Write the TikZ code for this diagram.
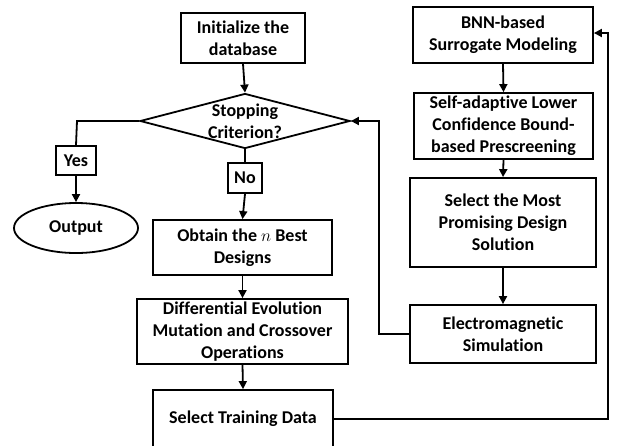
\documentclass[tikz,border=0pt]{standalone}
\usepackage{fontspec}
\setmainfont{Carlito}[Ligatures=NoCommon]
\usetikzlibrary{arrows.meta,shapes.geometric}
\begin{document}
\begin{tikzpicture}[x=1pt,y=-1pt,
  txt/.style={font=\bfseries\fontsize{18}{22}\selectfont, align=center},
  every node/.style={txt, inner sep=0pt},
  box/.style={draw, line width=1.8pt, rectangle},
  conn/.style={line width=1.8pt},
  arr/.style={conn, -{Triangle[length=8pt,width=8pt]}}]
\useasboundingbox (0,0) rectangle (617,445);
\clip (0,0) rectangle (617,445);
\fill[white] (0,0) rectangle (617,445);
% left column
\node[box, minimum width=124pt, minimum height=50pt] (init) at (243,38) {Initialize the\\database};
\node[draw, line width=1.8pt, diamond, minimum width=210pt, minimum height=55pt,
      label={[txt]center:Stopping\\Criterion?}] (dia) at (245,121) {};
\node[box, minimum width=40pt, minimum height=29pt] (yes) at (76,160.5) {Yes};
\node[draw, line width=1.8pt, ellipse, minimum width=124pt, minimum height=50pt] (out) at (76,228) {Output};
\node[box, minimum width=34pt, minimum height=30pt] (no) at (245,178) {No};
\node[box, minimum width=179pt, minimum height=55pt] (obt) at (242.5,247.5) {Obtain the $n$ Best\\Designs};
\node[box, minimum width=211pt, minimum height=65pt] (de) at (242.5,331.5) {Differential Evolution\\Mutation and Crossover\\Operations};
\node[box, minimum width=180pt, minimum height=58pt] (std) at (243,419) {Select Training Data};
% right column
\node[box, minimum width=180pt, minimum height=56pt] (bnn) at (503,35) {BNN-based\\Surrogate Modeling};
\node[box, minimum width=179pt, minimum height=66pt] (sa) at (503.5,126) {Self-adaptive Lower\\Confidence Bound-\\based Prescreening};
\node[box, minimum width=186pt, minimum height=89pt] (sm) at (503,222.5) {Select the Most\\Promising Design\\Solution};
\node[box, minimum width=186pt, minimum height=58pt] (em) at (503,334) {Electromagnetic\\Simulation};
% helper coordinates
\coordinate (cy) at (77,121);
\coordinate (ce) at (379,121);
\coordinate (cb) at (608,33);
% connectors
\draw[arr] (init.south) -- (dia.north);
\draw[conn] (dia.west) -- (cy) -- (yes.north);
\draw[arr] (yes.south) -- (out.north);
\draw[conn] (dia.south) -- (no.north);
\draw[arr] (no.south) -- (obt.north);
\draw[arr] (obt.south) -- (de.north);
\draw[arr] (de.south) -- (std.north);
\draw[arr] (bnn.south) -- (sa.north);
\draw[arr] (sa.south) -- (sm.north);
\draw[arr] (sm.south) -- (em.north);
\draw[arr] (em.west) -| (ce) -- (dia.east);
\draw[arr] (std.east) -| (cb) -- (bnn.east |- cb);
\end{tikzpicture}
\end{document}
